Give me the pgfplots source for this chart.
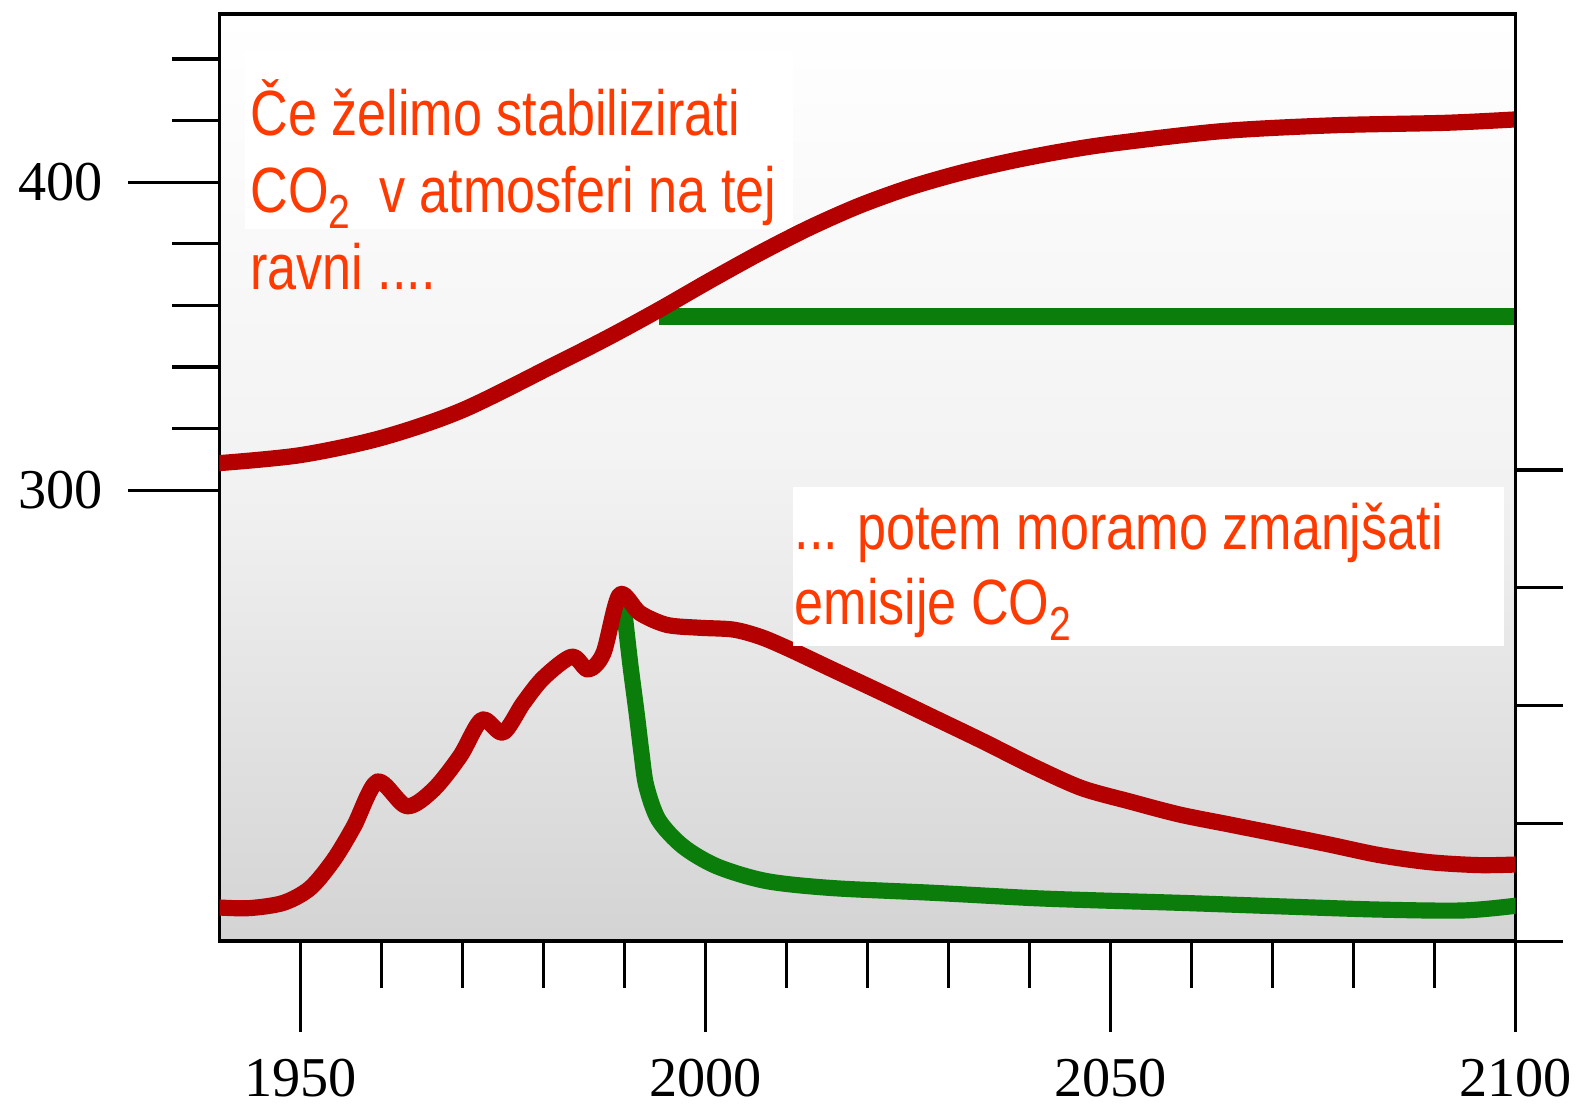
\documentclass[border=0pt]{standalone}
\usepackage{fontspec}
\setmainfont{Liberation Serif}
\newfontfamily\arialf{Liberation Sans}
\usepackage{graphicx}
\usepackage{pgfplots}
\pgfplotsset{compat=1.18}

\definecolor{cred}{RGB}{180,0,0}
\definecolor{cgreen}{RGB}{10,125,10}
\definecolor{ctext}{RGB}{255,58,0}

\newcommand{\sub}[1]{\raisebox{-4.6pt}{\fontsize{13.6}{13.6}\selectfont #1}}

% CO2 concentration (ppm)
\pgfplotstableread{
year ppm
1940 308.8
1950 311.4
1960 317.0
1970 326.0
1982.0 341.6
1988.2 349.9
1994.4 358.8
2000.5 368.0
2006.7 377.0
2012.9 385.3
2019.0 392.4
2025.2 398.3
2031.4 403.0
2037.6 406.8
2043.7 409.9
2050.1 412.5
2063.8 416.6
2077.6 418.5
2091.4 419.3
2100.0 420.4
}\concred
\pgfplotstableread{
year ppm
1994.2 356.4
2100 356.4
}\concgreen

% emissions
\pgfplotstableread{
year em
1940.0 0.57
1943.7 0.56
1947.9 0.65
1951.2 0.90
1954.1 1.38
1956.6 1.95
1959.5 2.71
1963.1 2.29
1966.4 2.57
1969.7 3.14
1972.4 3.76
1975.0 3.54
1977.5 4.04
1980.0 4.47
1983.5 4.83
1985.5 4.61
1987.4 4.89
1989.4 5.88
1991.9 5.57
1995.2 5.37
1999.3 5.32
2003.4 5.29
2006.7 5.17
2010.0 4.98
2015.7 4.61
2021.9 4.21
2028.1 3.80
2034.3 3.39
2040.4 2.97
2046.4 2.60
2052.4 2.37
2058.5 2.15
2064.7 1.98
2070.9 1.81
2077.0 1.64
2083.2 1.46
2089.4 1.34
2095.5 1.29
2100.0 1.30
}\emred
\pgfplotstableread{
year em
1990.0 5.57
1990.7 4.72
1991.5 3.87
1992.1 3.19
1992.7 2.63
1994.2 2.06
1997.2 1.61
2001.4 1.27
2007.5 1.02
2015.7 0.90
2028.1 0.82
2040.4 0.73
2048.7 0.69
2058.5 0.65
2070.9 0.59
2083.2 0.535
2093.5 0.52
2100.0 0.60
}\emgreen

\begin{document}
\begin{tikzpicture}
\begin{axis}[
  scale only axis,
  width=12.96cm, height=9.27cm,
  xmin=1940, xmax=2100,
  ymin=153.6, ymax=454.6,
  xtick={1950,2000,2050,2100},
  minor xtick={1960,1970,1980,1990,2010,2020,2030,2040,2060,2070,2080,2090},
  ytick={300,400},
  minor ytick={320,340,360,380,420,440},
  xtick pos=bottom, ytick pos=left,
  tick align=outside,
  major tick length=9.1mm,
  minor tick length=4.7mm,
  tick style={line width=0.9pt, black},
  axis line style={line width=1pt},
  /pgf/number format/assume math mode=true,
  /pgf/number format/set thousands separator={},
  ticklabel style={font=\fontsize{16}{16}\selectfont},
  xticklabel style={yshift=-1.5mm},
  yticklabel style={xshift=-1.3mm},
  axis background/.style={shade, top color=white, bottom color=black!17, middle color=black!5},
]
\coordinate (SW) at (rel axis cs:0,0);
\coordinate (NE) at (rel axis cs:1,1);
\fill[white] (rel axis cs:0.02,0.768) rectangle (rel axis cs:0.4425,0.96);
\addplot[cgreen, line width=4.6pt] table[x=year, y=ppm] {\concgreen};
\addplot[cred, line width=4.6pt, smooth, line cap=round] table[x=year, y=ppm] {\concred};
\node[anchor=base west, inner sep=0pt, text=ctext, font=\arialf\fontsize{18.2}{21.8}\selectfont]
  at (rel axis cs:0.0233,0.8686)
  {\scalebox{0.815}[1]{\begin{tabular}[t]{@{}l@{}}Če želimo stabilizirati\\ CO\sub{2}\ \ v atmosferi na tej\\ ravni ....\end{tabular}}};
\end{axis}

\begin{axis}[
  scale only axis,
  width=12.96cm, height=9.27cm,
  xmin=1940, xmax=2100,
  ymin=0, ymax=15.74,
  axis x line=none,
  axis y line*=right,
  ytick={0,2,4,6,8},
  yticklabels={},
  tick align=outside,
  major tick length=4.7mm,
  tick style={line width=0.9pt, black},
  axis line style={line width=1pt},
]
\addplot[cgreen, line width=4.6pt, smooth, tension=0.5, line cap=round] table[x=year, y=em] {\emgreen};
\addplot[cred, line width=4.6pt, smooth, tension=0.5, line cap=round, line join=round] table[x=year, y=em] {\emred};
\fill[white] (rel axis cs:0.4425,0.3187) rectangle (rel axis cs:0.9912,0.4901);
\node[anchor=base west, inner sep=0pt, text=ctext, font=\arialf\fontsize{18.2}{21.4}\selectfont]
  at (rel axis cs:0.4433,0.4224)
  {\scalebox{0.815}[1]{\begin{tabular}[t]{@{}l@{}}... potem moramo zmanjšati\\ emisije CO\sub{2}\end{tabular}}};
\end{axis}

\pgfresetboundingbox
\path[use as bounding box] ([xshift=-2.195cm,yshift=-1.705cm]SW) rectangle ([xshift=0.635cm,yshift=0.141cm]NE);
\end{tikzpicture}
\end{document}
